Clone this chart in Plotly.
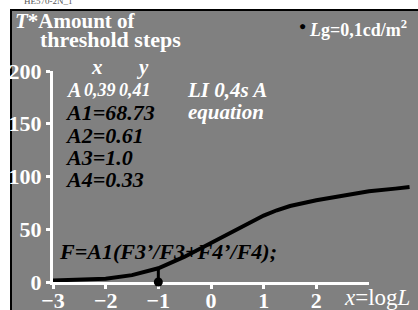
import plotly.graph_objects as go

# ---- data ----
curve_x = [-3.0, -2.5, -2.0, -1.5, -1.0, -0.5, 0.0, 0.5, 1.0, 1.25, 1.5, 2.0, 2.5, 3.0, 3.5, 3.77]
curve_y = [1.5, 2.0, 3.0, 6.5, 13.0, 24.0, 37.0, 51.0, 63.0, 68.0, 72.0, 77.5, 82.0, 86.0, 88.5, 90.0]
marker_x = [-1.0]
marker_y_top = [13.0]
x_ticks = [-3, -2, -1, 0, 1, 2]
x_tick_labels = ["\u22123", "\u22122", "\u22121", "0", "1", "2"]
y_ticks = [0, 50, 100, 150, 200]
y_tick_labels = ["0", "50", "100", "150", "200"]

W, H = 418, 310
ML, MR, MT, MB = 53, 0, 71, 28
PW = W - ML - MR
PH = H - MT - MB
UNIT = 316 / 6.0  # px per x unit on main axis


def px(x):
    return (x - ML) / PW


def py(y):
    return (H - MB - y) / PH


FONT = "Liberation Serif"
GRAY = "#808080"

fig = go.Figure()

# curve on wide overlay subplot
fig.add_trace(go.Scatter(x=curve_x, y=curve_y, mode="lines",
                         line=dict(color="black", width=4),
                         xaxis="x2", yaxis="y", showlegend=False, hoverinfo="skip"))
# drop line and dot
fig.add_trace(go.Scatter(x=[marker_x[0], marker_x[0]], y=[0, marker_y_top[0]], mode="lines",
                         line=dict(color="black", width=3),
                         xaxis="x", yaxis="y", showlegend=False, hoverinfo="skip"))
fig.add_trace(go.Scatter(x=marker_x, y=[0], mode="markers",
                         marker=dict(color="black", size=9), cliponaxis=False,
                         xaxis="x", yaxis="y", showlegend=False, hoverinfo="skip"))

axis_common = dict(showgrid=False, zeroline=False, showline=True, linecolor="white", linewidth=3,
                   ticks="outside", tickcolor="white", tickwidth=3, ticklen=4, automargin=False,
                   layer="below traces",
                   tickfont=dict(family=FONT, size=22, color="white"), fixedrange=True)

fig.update_layout(
    width=W, height=H,
    margin=dict(l=ML, r=MR, t=MT, b=MB, pad=0, autoexpand=False),
    paper_bgcolor="white", plot_bgcolor="rgba(0,0,0,0)",
    xaxis=dict(domain=[0, 316 / PW], range=[-3, 3], anchor="y", ticklabelstandoff=-7,
               tickvals=x_ticks, ticktext=["<b>%s</b>" % t for t in x_tick_labels], **axis_common),
    yaxis=dict(domain=[0, 1], range=[0, 200], anchor="x",
               tickvals=y_ticks, ticktext=["<b>%s</b>" % t for t in y_tick_labels], **axis_common),
    xaxis2=dict(domain=[0, 1], range=[-3, -3 + PW / UNIT], anchor="y", visible=False,
                fixedrange=True, automargin=False),
    xaxis3=dict(overlaying="x", range=[-3, 3], anchor="y", showgrid=False, zeroline=False,
                showline=False, ticks="inside", tickcolor="white", tickwidth=3, ticklen=4,
                layer="below traces",
                tickvals=x_ticks, showticklabels=False, fixedrange=True, automargin=False),
    yaxis2=dict(overlaying="y", range=[0, 200], anchor="x", showgrid=False, zeroline=False,
                showline=False, ticks="inside", tickcolor="white", tickwidth=3, ticklen=4,
                layer="below traces",
                tickvals=y_ticks, showticklabels=False, fixedrange=True, automargin=False),
    showlegend=False,
)

# background panel
fig.add_shape(type="rect", xref="paper", yref="paper",
              x0=px(11), x1=px(430), y0=py(320), y1=py(10),
              fillcolor=GRAY, line=dict(color="black", width=2), layer="below")


def note(text, x, y, color="white", size=21, anchor="left"):
    fig.add_annotation(text=text, xref="paper", yref="paper", x=px(x), y=py(y),
                       xanchor=anchor, yanchor="middle", showarrow=False,
                       font=dict(family=FONT, size=size, color=color))


note("HE570-2N_1", 22, 1, color="#555555", size=9)
note("<b><i>T</i>*Amount of</b>", 13, 21)
note("<b>threshold steps</b>", 38, 40, size=22)
note("<b><i>x</i></b>", 89, 67)
note("<b><i>y</i></b>", 134, 67)
note("<b><i>A</i></b>", 64, 90, size=20)
note("<b><i>0,39</i></b>", 82, 90, size=18)
note("<b><i>0,41</i></b>", 117, 90, size=18)
note("<b><i>LI 0,4s A</i></b>", 185, 90)
note("<b><i>equation</i></b>", 186, 112)
note("<b><i>A1=68.73</i></b>", 63, 113, color="black", size=22)
note("<b><i>A2=0.61</i></b>", 63, 135, color="black", size=22)
note("<b><i>A3=1.0</i></b>", 63, 157, color="black", size=22)
note("<b><i>A4=0.33</i></b>", 63, 179, color="black", size=22)
note("<b><i>F=A1(F3\u2019/F3+F4\u2019/F4);</i></b>", 57, 251, color="black", size=22)
note("<i>x</i>=log<i>L</i>", 342, 297, size=23)
note("<b><i>L</i>g=0,1cd/m<sup>2</sup></b>", 307, 29, size=18)
note("\u25cf", 302, 26, color="black", size=12, anchor="center")

fig.write_html("out.html", config={"displayModeBar": False},
               post_script="document.body.style.margin='0';document.body.style.overflow='hidden';")
